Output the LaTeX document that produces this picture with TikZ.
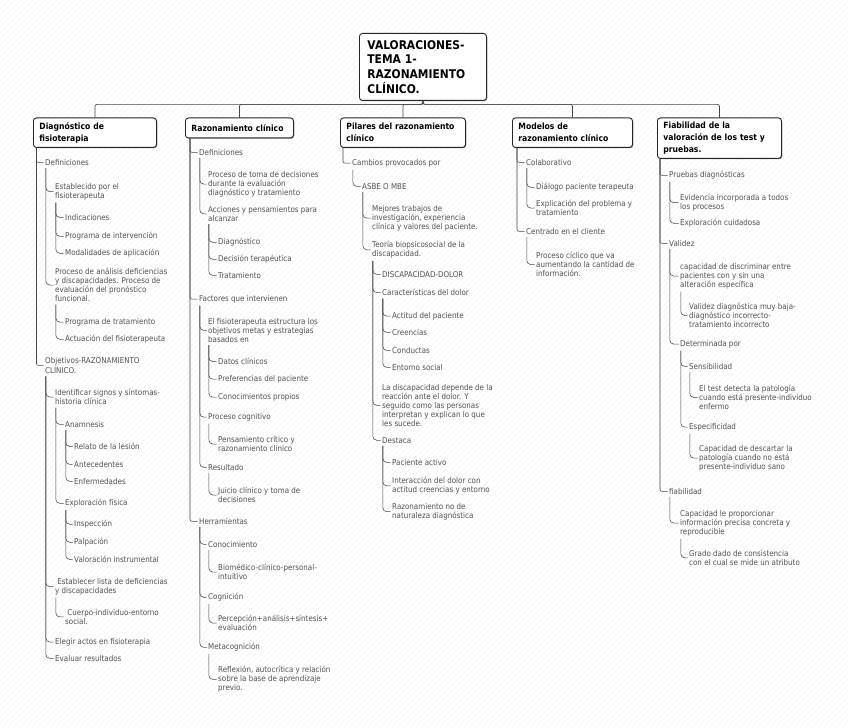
\documentclass[tikz,border=0pt]{standalone}
\usepackage{fontspec}
\setmainfont{DejaVu Sans}[FakeStretch=0.89]
\usetikzlibrary{shadows}
\newcommand\smf{\fontsize{8}{9}\selectfont}
\newcommand\hdf{\fontsize{8.6}{12}\selectfont\bfseries\hyphenpenalty=10000 }
\newcommand\titlef{\fontsize{12}{14.7}\selectfont\bfseries}
\newcommand\tnode[4]{\node[tx] (#1) at (#2,#3) {#4};}
\newcommand\ccon[2]{\draw[conn, rounded corners=4pt] ([xshift=0.8pt,yshift=-2.5pt]#1.south west) |- ([xshift=-1.5pt]#2.west);}
\newcommand\hcon[3]{\draw[conn] ([xshift=#3]#1.south west) |- ([xshift=-1.5pt]#2.west);}
\begin{document}
\begin{tikzpicture}[x=1pt,y=-1pt,
 tx/.style={font=\smf, text=black!68, inner sep=0pt, anchor=north west, align=left, yshift=3.9pt},
 conn/.style={draw=black!72, line width=0.55pt, rounded corners=2pt},
 hdr/.style={draw=black!85, line width=0.9pt, rounded corners=3pt, fill=white, font=\hdf, align=left, inner xsep=6pt, inner ysep=0pt, anchor=north west, drop shadow={shadow xshift=0.8pt, shadow yshift=-0.8pt, fill=black!45, opacity=1}},
 ]
\useasboundingbox (0,0) rectangle (848,727);
\fill[white] (0,0) rectangle (848,727);
\begin{scope}
\clip (0,0) rectangle (848,727);
\foreach \i in {-730,-724,...,850} \draw[black!7, line width=0.3pt] (\i,727) -- (\i+727,0);
\end{scope}

% title and headers
\node[hdr, font=\titlef, text width=111pt, inner xsep=8pt, minimum height=67pt] (title) at (359,33) {VALORACIONES-\\TEMA 1-\\RAZONAMIENTO\\CLÍNICO.};
\node[hdr, text width=111pt, minimum height=29.5pt] (H1) at (33,117.5) {Diagnóstico de\\fisioterapia};
\node[hdr, text width=96pt, minimum height=20pt] (H2) at (185,117.5) {Razonamiento clínico};
\node[hdr, text width=113pt, minimum height=29.5pt] (H3) at (340,117.5) {Pilares del razonamiento\\clínico};
\node[hdr, text width=108pt, minimum height=29.5pt] (H4) at (512,117.5) {Modelos de\\razonamiento clínico};
\node[hdr, text width=112pt, minimum height=40.5pt] (H5) at (657,117.5) {Fiabilidad de la\\valoración de los test y\\pruebas.};
\coordinate (tb) at ([yshift=-3.5pt]title.south);
\foreach \h in {H1,H2,H3,H4,H5} \draw[conn, line width=0.7pt] (title.south) -- (tb) -| (\h.north);

% column 1
\tnode{a1}{45}{163}{Definiciones}
\tnode{a11}{55}{187}{Establecido por el\\fisioterapeuta}
\tnode{a111}{65}{218}{Indicaciones}
\tnode{a112}{65}{236}{Programa de intervención}
\tnode{a113}{65}{253}{Modalidades de aplicación}
\tnode{a12}{55}{272}{Proceso de análisis deficiencias\\y discapacidades. Proceso de\\evaluación del pronóstico\\funcional.}
\tnode{a121}{65}{322}{Programa de tratamiento}
\tnode{a122}{65}{339}{Actuación del fisioterapeuta}
\tnode{a2}{45}{361}{Objetivos-RAZONAMIENTO\\CLÍNICO.}
\tnode{a21}{55}{393}{Identificar signos y síntomas-\\historia clínica}
\tnode{a211}{65}{425}{Anamnesis}
\tnode{a2111}{74}{447}{Relato de la lesión}
\tnode{a2112}{74}{465}{Antecedentes}
\tnode{a2113}{74}{482}{Enfermedades}
\tnode{a212}{65}{503}{Exploración física}
\tnode{a2121}{74}{524}{Inspección}
\tnode{a2122}{74}{542}{Palpación}
\tnode{a2123}{74}{560}{Valoración instrumental}
\tnode{a22}{55}{582}{\ Establecer lista de deficiencias\\y discapacidades}
\tnode{a221}{65}{613}{\ Cuerpo-individuo-entorno\\social.}
\tnode{a23}{55}{642}{Elegir actos en fisioterapia}
\tnode{a24}{55}{659}{Evaluar resultados}
\hcon{H1}{a1}{3.5pt}
\hcon{H1}{a2}{3.5pt}
\ccon{a1}{a11}\ccon{a1}{a12}
\ccon{a11}{a111}\ccon{a11}{a112}\ccon{a11}{a113}
\ccon{a12}{a121}\ccon{a12}{a122}
\ccon{a2}{a21}\ccon{a2}{a22}\ccon{a2}{a23}\ccon{a2}{a24}
\ccon{a21}{a211}\ccon{a21}{a212}
\ccon{a211}{a2111}\ccon{a211}{a2112}\ccon{a211}{a2113}
\ccon{a212}{a2121}\ccon{a212}{a2122}\ccon{a212}{a2123}
\ccon{a22}{a221}

% column 2
\tnode{b1}{199}{153}{Definiciones}
\tnode{b11}{208}{175}{Proceso de toma de decisiones\\durante la evaluación\\diagnóstico y tratamiento}
\tnode{b12}{208}{210}{Acciones y pensamientos para\\alcanzar}
\tnode{b121}{218}{242}{Diagnóstico}
\tnode{b122}{218}{259}{Decisión terapéutica}
\tnode{b123}{218}{276}{Tratamiento}
\tnode{b2}{199}{299}{Factores que intervienen}
\tnode{b21}{208}{322}{El fisioterapeuta estructura los\\objetivos metas y estrategias\\basados en}
\tnode{b211}{218}{362}{Datos clínicos}
\tnode{b212}{218}{379}{Preferencias del paciente}
\tnode{b213}{218}{397}{Conocimientos propios}
\tnode{b22}{208}{417}{Proceso cognitivo}
\tnode{b221}{218}{440}{Pensamiento crítico y\\razonamiento clínico}
\tnode{b23}{208}{468}{Resultado}
\tnode{b231}{218}{491}{Juicio clínico y toma de\\decisiones}
\tnode{b3}{199}{522}{Herramientas}
\tnode{b31}{208}{545}{Conocimiento}
\tnode{b311}{218}{568}{Biomédico-clínico-personal-\\intuitivo}
\tnode{b32}{208}{597}{Cognición}
\tnode{b321}{218}{619}{Percepción+análisis+síntesis+\\evaluación}
\tnode{b33}{208}{647}{Metacognición}
\tnode{b331}{218}{670}{Reflexión, autocrítica y relación\\sobre la base de aprendizaje\\previo.}
\hcon{H2}{b1}{5pt}\hcon{H2}{b2}{5pt}\hcon{H2}{b3}{5pt}
\ccon{b1}{b11}\ccon{b1}{b12}
\ccon{b12}{b121}\ccon{b12}{b122}\ccon{b12}{b123}
\ccon{b2}{b21}\ccon{b2}{b22}\ccon{b2}{b23}
\ccon{b21}{b211}\ccon{b21}{b212}\ccon{b21}{b213}
\ccon{b22}{b221}\ccon{b23}{b231}
\ccon{b3}{b31}\ccon{b3}{b32}\ccon{b3}{b33}
\ccon{b31}{b311}\ccon{b32}{b321}\ccon{b33}{b331}

% column 3
\tnode{c1}{352}{163}{Cambios provocados por}
\tnode{c11}{362}{187}{ASBE O MBE}
\tnode{c111}{372}{209}{Mejores trabajos de\\investigación, experiencia\\clínica y valores del paciente.}
\tnode{c112}{372}{245}{Teoría biopsicosocial de la\\discapacidad.}
\tnode{c1121}{382}{275}{DISCAPACIDAD-DOLOR}
\tnode{c1122}{382}{293}{Características del dolor}
\tnode{c11221}{392}{316}{Actitud del paciente}
\tnode{c11222}{392}{333}{Creencias}
\tnode{c11223}{392}{351}{Conductas}
\tnode{c11224}{392}{368}{Entorno social}
\tnode{c1123}{382}{388}{La discapacidad depende de la\\reacción ante el dolor. Y\\seguido como las personas\\interpretan y explican lo que\\les sucede.}
\tnode{c1124}{382}{441}{Destaca}
\tnode{c11241}{392}{463}{Paciente activo}
\tnode{c11242}{392}{481}{Interacción del dolor con\\actitud creencias y entorno}
\tnode{c11243}{392}{507}{Razonamiento no de\\naturaleza diagnóstica}
\hcon{H3}{c1}{3pt}
\ccon{c1}{c11}
\ccon{c11}{c111}\ccon{c11}{c112}
\ccon{c112}{c1121}\ccon{c112}{c1122}\ccon{c112}{c1123}\ccon{c112}{c1124}
\ccon{c1122}{c11221}\ccon{c1122}{c11222}\ccon{c1122}{c11223}\ccon{c1122}{c11224}
\ccon{c1124}{c11241}\ccon{c1124}{c11242}\ccon{c1124}{c11243}

% column 4
\tnode{d1}{526}{163}{Colaborativo}
\tnode{d11}{536}{187}{Diálogo paciente terapeuta}
\tnode{d12}{536}{204}{Explicación del problema y\\tratamiento}
\tnode{d2}{526}{232}{Centrado en el cliente}
\tnode{d21}{536}{256}{Proceso cíclico que va\\aumentando la cantidad de\\información.}
\hcon{H4}{d1}{5pt}\hcon{H4}{d2}{5pt}
\ccon{d1}{d11}\ccon{d1}{d12}\ccon{d2}{d21}

% column 5
\tnode{e1}{669}{175}{Pruebas diagnósticas}
\tnode{e11}{680}{198}{Evidencia incorporada a todos\\los procesos}
\tnode{e12}{680}{223}{Exploración cuidadosa}
\tnode{e2}{669}{244}{Validez}
\tnode{e21}{680}{267}{capacidad de discriminar entre\\pacientes con y sin una\\alteración específica}
\tnode{e211}{689}{307}{Validez diagnóstica muy baja-\\diagnóstico incorrecto-\\tratamiento incorrecto}
\tnode{e22}{680}{344}{Determinada por}
\tnode{e221}{689}{367}{Sensibilidad}
\tnode{e2211}{699}{389}{El test detecta la patología\\cuando está presente-individuo\\enfermo}
\tnode{e222}{689}{427}{Especificidad}
\tnode{e2221}{699}{449}{Capacidad de descartar la\\patología cuando no está\\presente-individuo sano}
\tnode{e3}{669}{492}{fiabilidad}
\tnode{e31}{680}{514}{Capacidad le proporcionar\\información precisa concreta y\\reproducible}
\tnode{e311}{689}{554}{Grado dado de consistencia\\con el cual se mide un atributo}
\hcon{H5}{e1}{3pt}\hcon{H5}{e2}{3pt}\hcon{H5}{e3}{3pt}
\ccon{e1}{e11}\ccon{e1}{e12}
\ccon{e2}{e21}\ccon{e2}{e22}
\ccon{e21}{e211}
\ccon{e22}{e221}\ccon{e22}{e222}
\ccon{e221}{e2211}\ccon{e222}{e2221}
\ccon{e3}{e31}\ccon{e31}{e311}
\end{tikzpicture}
\end{document}
